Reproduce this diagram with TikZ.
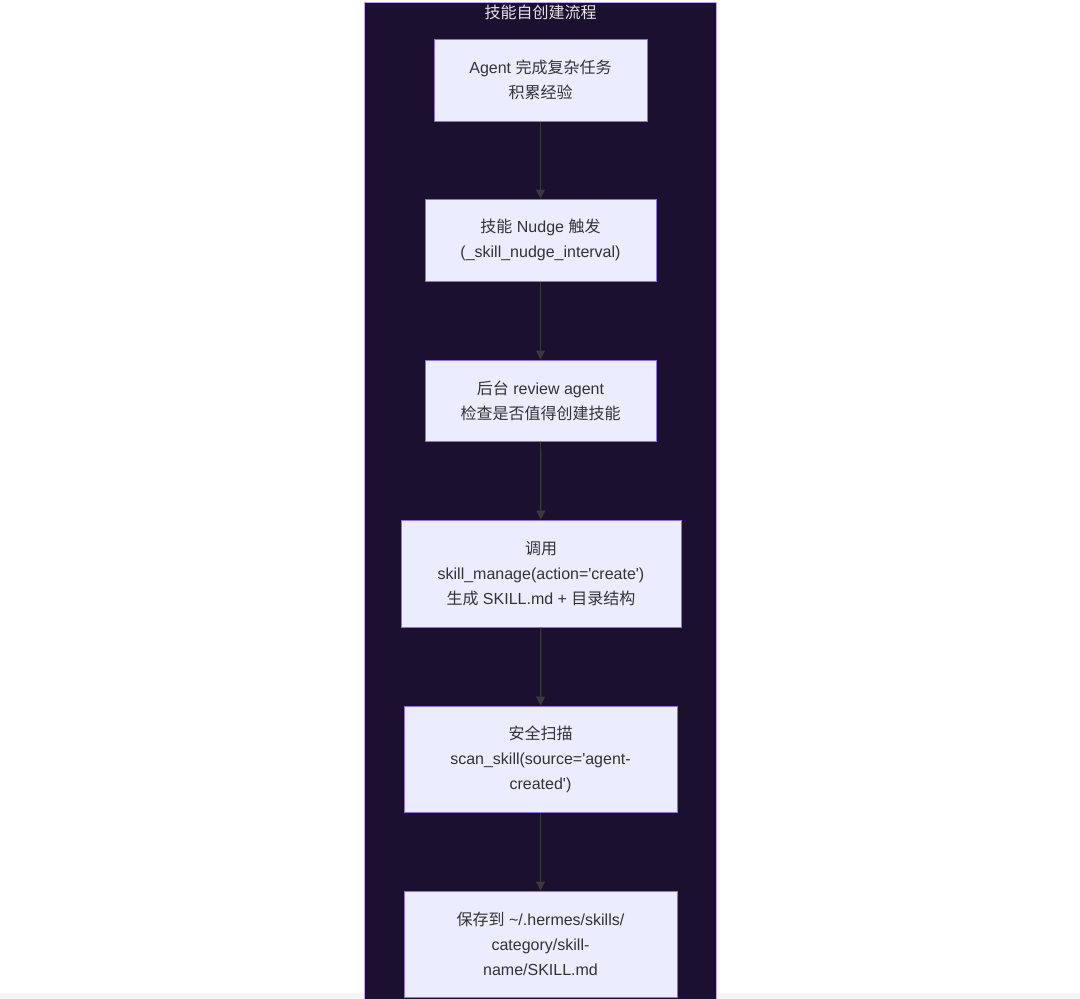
\documentclass[tikz,border=0pt]{standalone}
\usepackage{fontspec}
\setmainfont{Liberation Sans}
\newfontfamily\cjk{Noto Sans CJK SC}
\newcommand{\zh}[1]{{\cjk #1}}
\newcommand{\q}{\textquotesingle}
\usetikzlibrary{arrows.meta}
\definecolor{panelfill}{HTML}{1B1030}
\definecolor{panelborder}{HTML}{C8A2F0}
\definecolor{nodefill}{HTML}{ECECFF}
\definecolor{nodeborder}{HTML}{9370DB}
\definecolor{txt}{HTML}{333333}
\definecolor{edge}{HTML}{3A3A3A}
\begin{document}
\begin{tikzpicture}[x=1pt,y=-1pt,
  stepbox/.style={draw=nodeborder,fill=nodefill,line width=1pt,text=txt,
    font=\fontsize{16}{25}\selectfont,align=center,inner sep=0pt},
  flow/.style={draw=edge,line width=1.2pt,-{Triangle[length=9pt,width=9pt]}}]
\useasboundingbox (0,0) rectangle (1080,999);
\fill[white] (0,0) rectangle (1080,999);
\fill[black!4] (0,993) rectangle (1080,999);
\draw[panelborder,fill=panelfill,line width=1pt] (364.5,2) rectangle (716.5,1002);
\node[text=white!90!black,font=\fontsize{16}{20}\selectfont] (title) at (540.5,12) {\zh{技能自创建流程}};
\node[stepbox,minimum width=213pt,minimum height=82pt] (n1) at (540.5,80)
  {Agent \zh{完成复杂任务}\\\zh{积累经验}};
\node[stepbox,minimum width=231pt,minimum height=82pt] (n2) at (540.5,240)
  {\zh{技能} Nudge \zh{触发}\\(\_skill\_nudge\_interval)};
\node[stepbox,minimum width=231pt,minimum height=81pt] (n3) at (540.5,400.5)
  {\zh{后台} review agent\\\zh{检查是否值得创建技能}};
\node[stepbox,minimum width=280pt,minimum height=107pt] (n4) at (541,573.5)
  {\zh{调用}\\skill\_manage(action=\q create\q)\\\zh{生成} SKILL.md + \zh{目录结构}};
\node[stepbox,minimum width=273pt,minimum height=106pt] (n5) at (540.5,759)
  {\zh{安全扫描}\\scan\_skill(source=\q agent-\\created\q)};
\node[stepbox,minimum width=273pt,minimum height=106pt] (n6) at (540.5,944)
  {\zh{保存到} \textasciitilde/.hermes/skills/\\category/skill-\\name/SKILL.md};
\draw[flow] (n1) -- (n2);
\draw[flow] (n2) -- (n3);
\draw[flow] (n3) -- (n4);
\draw[flow] (n4) -- (n5);
\draw[flow] (n5) -- (n6);
\end{tikzpicture}
\end{document}
